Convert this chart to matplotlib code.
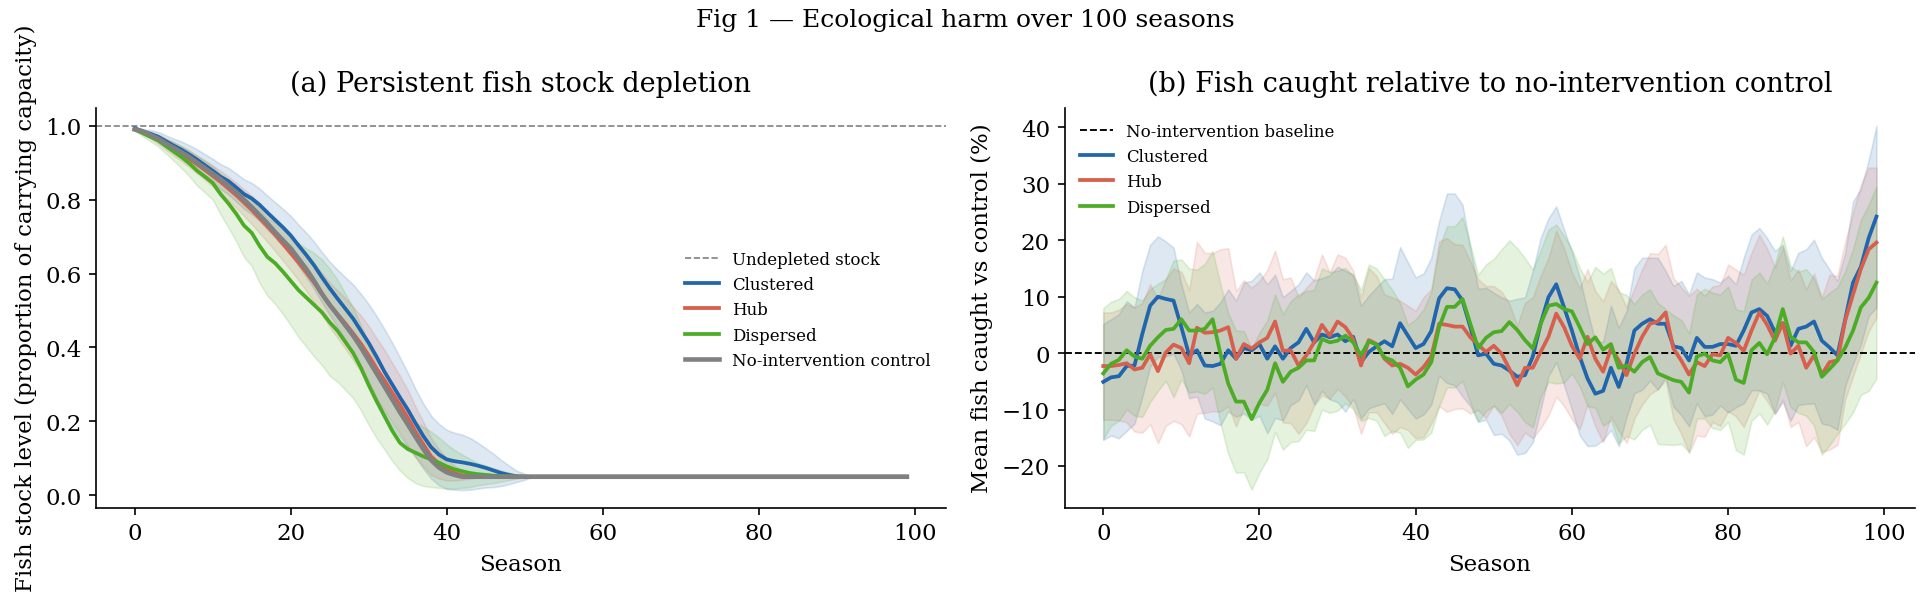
import numpy as np
import matplotlib
matplotlib.use("Agg")
import matplotlib.pyplot as plt

plt.rcParams['font.family'] = ['DejaVu Serif']

# ---- panel (a): fish stock level, seasons 0..50 then flat floor ----
FLOOR = 0.05
stock_clustered = [0.993, 0.985, 0.978, 0.970, 0.958, 0.946, 0.935, 0.922, 0.908, 0.893,
                   0.878, 0.862, 0.850, 0.833, 0.815, 0.803, 0.786, 0.765, 0.745, 0.725,
                   0.703, 0.676, 0.650, 0.622, 0.590, 0.560, 0.532, 0.505, 0.478, 0.445,
                   0.412, 0.375, 0.335, 0.300, 0.265, 0.232, 0.195, 0.160, 0.130, 0.110,
                   0.097, 0.092, 0.089, 0.085, 0.080, 0.074, 0.067, 0.060, 0.055, 0.051, 0.050]
stock_hub = [0.990, 0.983, 0.975, 0.963, 0.950, 0.937, 0.924, 0.910, 0.895, 0.880,
             0.864, 0.848, 0.830, 0.812, 0.792, 0.772, 0.750, 0.728, 0.705, 0.680,
             0.655, 0.630, 0.603, 0.575, 0.545, 0.515, 0.490, 0.465, 0.438, 0.410,
             0.378, 0.343, 0.312, 0.278, 0.245, 0.210, 0.172, 0.138, 0.105, 0.085,
             0.070, 0.060, 0.054, 0.051, 0.050, 0.050, 0.050, 0.050, 0.050, 0.050, 0.050]
stock_dispersed = [0.990, 0.980, 0.970, 0.960, 0.945, 0.930, 0.915, 0.898, 0.878, 0.862,
                   0.845, 0.815, 0.790, 0.762, 0.730, 0.710, 0.675, 0.645, 0.628, 0.605,
                   0.580, 0.555, 0.535, 0.515, 0.495, 0.468, 0.445, 0.415, 0.385, 0.345,
                   0.298, 0.255, 0.215, 0.175, 0.142, 0.125, 0.115, 0.105, 0.097, 0.088,
                   0.078, 0.070, 0.065, 0.060, 0.057, 0.055, 0.053, 0.052, 0.051, 0.050, 0.050]
stock_control = [0.990, 0.985, 0.975, 0.965, 0.952, 0.940, 0.928, 0.915, 0.900, 0.885,
                 0.870, 0.855, 0.838, 0.820, 0.800, 0.780, 0.758, 0.736, 0.712, 0.690,
                 0.668, 0.640, 0.612, 0.580, 0.545, 0.515, 0.488, 0.460, 0.432, 0.400,
                 0.365, 0.330, 0.295, 0.260, 0.225, 0.192, 0.158, 0.125, 0.095, 0.075,
                 0.062, 0.055, 0.050, 0.050, 0.050, 0.050, 0.050, 0.050, 0.050, 0.050, 0.050]
# band half-widths (seasons 0..50)
stock_sd_clustered = [0.003, 0.006, 0.010, 0.013, 0.016, 0.019, 0.022, 0.025, 0.028, 0.030,
                      0.032, 0.034, 0.036, 0.038, 0.040, 0.042, 0.044, 0.046, 0.048, 0.050,
                      0.053, 0.056, 0.060, 0.064, 0.068, 0.072, 0.078, 0.085, 0.092, 0.100,
                      0.105, 0.110, 0.115, 0.113, 0.108, 0.100, 0.092, 0.088, 0.085, 0.083,
                      0.080, 0.077, 0.075, 0.070, 0.062, 0.053, 0.045, 0.035, 0.025, 0.015, 0.008]
stock_sd_hub = [0.003, 0.006, 0.009, 0.012, 0.015, 0.018, 0.020, 0.022, 0.024, 0.026,
                0.028, 0.030, 0.032, 0.034, 0.036, 0.038, 0.040, 0.042, 0.044, 0.045,
                0.046, 0.048, 0.050, 0.053, 0.056, 0.060, 0.064, 0.068, 0.072, 0.076,
                0.080, 0.082, 0.082, 0.080, 0.078, 0.075, 0.068, 0.060, 0.050, 0.040,
                0.030, 0.020, 0.012, 0.006, 0.002, 0.0, 0.0, 0.0, 0.0, 0.0, 0.0]
stock_sd_dispersed = [0.004, 0.008, 0.012, 0.016, 0.020, 0.025, 0.030, 0.035, 0.040, 0.043,
                      0.045, 0.055, 0.065, 0.075, 0.085, 0.090, 0.100, 0.105, 0.110, 0.115,
                      0.120, 0.127, 0.133, 0.140, 0.143, 0.145, 0.138, 0.130, 0.122, 0.115,
                      0.108, 0.100, 0.090, 0.082, 0.075, 0.078, 0.082, 0.080, 0.075, 0.068,
                      0.060, 0.052, 0.045, 0.038, 0.030, 0.025, 0.020, 0.015, 0.010, 0.005, 0.0]

# ---- panel (b): % fish caught vs control, seasons 0..99 ----
catch_clustered = [-5.1, -4.3, -4.1, -2.3, -2.2, 3.4, 8.4, 10.0, 9.6, 9.3,
                   4.6, -0.4, 0.5, -2.2, -2.3, -1.9, 0.5, -1.0, 0.9, 0.5,
                   1.6, -1.0, 1.2, -1.0, 0.9, 1.9, 4.3, 1.9, 3.3, 2.8,
                   3.3, 2.1, 2.9, -1.6, 0.2, 1.2, 2.1, 1.2, 5.3, 3.1,
                   0.9, 1.6, 3.9, 9.7, 11.5, 11.3, 9.3, 4.6, -0.4, -0.1,
                   -1.9, -2.2, -3.1, -4.2, -3.9, -0.6, 5.2, 9.9, 12.2, 8.1,
                   4.0, -0.6, -4.5, -7.2, -6.7, -2.6, -6.0, -1.9, 4.0, 5.2,
                   6.0, 5.2, 5.2, 1.2, 0.9, -1.3, 2.7, 1.1, 1.1, 1.6,
                   1.6, 1.3, 4.0, 7.2, 7.8, 6.6, 3.7, 5.3, 1.3, 4.3,
                   4.7, 5.6, 2.2, 1.0, -0.4, 6.0, 12.5, 15.3, 20.4, 24.2]
catch_hub = [-2.3, -2.3, -2.1, -1.8, -2.9, -2.6, -0.2, -3.2, 0.1, 1.5,
             0.9, -1.8, 4.5, 3.6, 3.7, 4.0, 4.6, -1.0, 1.6, 0.8,
             1.9, 2.7, 5.6, 0.4, 0.5, -2.2, -0.4, 1.9, 5.0, 3.1,
             5.6, 4.6, 2.5, -2.2, 2.3, 1.6, -1.0, -2.2, -1.9, -2.6,
             -3.8, -2.5, -0.6, 5.2, 5.0, 4.7, 4.7, 2.8, 1.5, 0.2,
             1.3, -0.1, -2.8, -5.7, -2.6, -2.6, 0.2, 2.9, 7.0, 4.6,
             1.3, -1.0, 2.9, -1.0, -3.3, 0.8, -1.3, -3.9, -0.1, 2.9,
             5.2, 5.6, 7.2, 0.8, -1.3, -3.8, -1.6, -2.3, -0.2, -0.4,
             2.7, 1.8, 0.4, 4.0, 7.2, 5.0, 2.2, 5.3, -0.1, 1.3,
             -2.6, -0.4, -3.8, -1.6, -1.3, 5.8, 10.4, 14.9, 18.4, 19.6]
catch_dispersed = [-3.6, -1.9, -1.2, 0.5, -0.6, -1.0, 1.3, 2.8, 4.1, 4.3,
                   6.0, 4.0, 4.0, 4.3, 6.0, -0.1, -5.4, -8.6, -8.6, -11.7,
                   -8.8, -6.5, -1.8, -5.1, -3.3, -2.6, -1.3, -1.3, 2.5, 1.9,
                   2.2, 3.1, 1.9, -0.4, 2.1, 1.5, -0.8, -1.3, -2.6, -5.9,
                   -4.7, -3.8, -1.6, 4.6, 8.2, 8.2, 9.6, 5.2, 0.9, 2.7,
                   3.7, 3.9, 5.5, 4.1, 2.3, 0.8, 5.2, 8.4, 8.7, 7.8,
                   7.4, 4.6, 1.6, 2.8, 0.6, 1.6, -2.6, -2.2, -3.3, -1.6,
                   -0.7, -3.6, -4.2, -4.8, -5.1, -7.0, -0.6, -0.1, -1.3, -1.6,
                   -0.2, -4.7, -5.3, 0.5, 1.8, -0.2, 2.8, 7.8, 2.9, 1.9,
                   1.9, 0.2, -4.2, -2.8, -1.3, 1.0, 4.0, 8.1, 9.8, 12.5]
catch_sd_clustered = [10.3, 10.3, 11.0, 11.5, 10.3, 11.2, 10.8, 10.7, 10.2, 9.4,
                      7.6, 7.6, 8.2, 9.4, 9.8, 10.9, 10.8, 10.3, 11.6, 12.3,
                      12.7, 13.2, 12.7, 10.9, 10.1, 10.3, 10.0, 11.0, 10.0, 11.0,
                      12.0, 12.5, 11.0, 10.0, 10.0, 10.5, 11.0, 12.0, 13.5, 13.0,
                      12.5, 12.5, 13.0, 13.7, 16.8, 17.0, 17.0, 14.0, 11.8, 11.7,
                      12.6, 12.1, 12.4, 13.8, 13.8, 15.2, 15.2, 14.0, 13.8, 13.8,
                      14.0, 14.0, 12.0, 9.2, 8.7, 11.0, 10.5, 9.4, 11.1, 11.7,
                      10.9, 11.7, 9.4, 10.7, 11.9, 11.7, 11.6, 12.3, 12.0, 10.9,
                      12.1, 10.9, 12.9, 13.8, 14.4, 13.8, 14.4, 13.9, 13.3, 13.5,
                      13.7, 14.5, 14.7, 13.8, 13.2, 11.8, 14.4, 13.8, 13.8, 16.1]
catch_sd_hub = [9.5, 9.5, 9.8, 10.5, 11.0, 11.5, 12.4, 12.8, 13.0, 13.5,
                13.5, 13.0, 15.2, 14.2, 14.0, 14.4, 14.0, 12.0, 11.3, 10.8,
                10.9, 12.0, 12.6, 12.7, 12.9, 12.1, 12.0, 11.2, 12.5, 11.2,
                11.9, 12.3, 12.1, 12.1, 12.8, 12.1, 11.4, 12.1, 11.2, 11.0,
                11.3, 12.4, 11.9, 14.6, 15.4, 14.6, 14.5, 13.5, 11.6, 11.7,
                10.6, 11.0, 11.5, 10.6, 11.5, 12.5, 13.5, 14.0, 14.7, 14.0,
                13.0, 12.5, 12.0, 12.0, 12.5, 12.0, 12.5, 12.0, 11.5, 12.0,
                12.5, 12.0, 12.0, 12.5, 13.0, 13.9, 13.0, 12.5, 12.0, 12.5,
                13.0, 13.0, 13.5, 13.8, 13.8, 13.5, 13.0, 13.5, 13.0, 13.5,
                13.9, 14.5, 13.7, 15.5, 15.0, 14.0, 14.5, 15.0, 14.5, 13.3]
catch_sd_dispersed = [11.6, 11.0, 10.8, 10.5, 10.5, 10.3, 10.0, 9.5, 9.0, 12.1,
                      10.6, 11.0, 10.8, 11.5, 12.1, 12.3, 12.5, 12.6, 12.5, 12.5,
                      12.4, 12.3, 12.2, 12.0, 12.5, 13.0, 12.3, 12.5, 12.5, 12.5,
                      12.4, 12.0, 11.8, 11.6, 13.6, 13.5, 13.9, 12.5, 11.5, 10.9,
                      10.7, 11.5, 12.5, 14.0, 14.3, 14.3, 14.5, 14.0, 13.0, 13.0,
                      13.0, 14.5, 14.5, 14.5, 14.5, 14.0, 13.0, 13.5, 14.1, 13.0,
                      11.0, 10.5, 11.0, 12.5, 13.5, 13.5, 13.4, 12.5, 12.0, 12.0,
                      12.0, 12.5, 12.0, 11.5, 11.0, 10.5, 11.0, 11.5, 12.0, 12.0,
                      12.0, 12.5, 12.7, 12.5, 12.5, 12.5, 13.0, 12.9, 12.5, 12.5,
                      13.0, 13.0, 13.8, 13.5, 13.0, 13.5, 14.5, 15.5, 16.5, 17.0]

labels = ["Clustered", "Hub", "Dispersed"]
colors = ["#2166ac", "#d6604d", "#4dac26"]
GRAY = "#808080"

seasons = np.arange(100)


def pad(vals, fill):
    # flat tail after the stock has collapsed
    return np.array(list(vals) + [fill] * (100 - len(vals)))


fig = plt.figure(figsize=(12.8667, 3.9533), dpi=150)
ax1 = fig.add_axes([0.0498, 0.142, 0.4401, 0.6749])
ax2 = fig.add_axes([0.5516, 0.142, 0.4407, 0.6749])

# (a)
ax1.axhline(1.0, color=GRAY, ls="--", lw=0.8, label="Undepleted stock")
for name, col, m, sd in zip(labels, colors,
                            [stock_clustered, stock_hub, stock_dispersed],
                            [stock_sd_clustered, stock_sd_hub, stock_sd_dispersed]):
    m = pad(m, FLOOR)
    sd = pad(sd, 0.0)
    ax1.fill_between(seasons, m - sd, m + sd, color=col, alpha=0.15, lw=0.8)
    ax1.plot(seasons, m, color=col, lw=1.8, label=name)
ax1.plot(seasons, pad(stock_control, FLOOR), color=GRAY, lw=2.2, label="No-intervention control")
ax1.set_ylim(-0.034, 1.049)
ax1.set_xlabel("Season", fontsize=11)
ax1.set_ylabel("Fish stock level (proportion of carrying capacity)", fontsize=11)
ax1.set_title("(a) Persistent fish stock depletion", fontsize=13, pad=8)
ax1.legend(loc="center right", bbox_to_anchor=(1.0, 0.495), frameon=False, fontsize=8)

# (b)
ax2.axhline(0, color="black", ls="--", lw=0.9, label="No-intervention baseline")
for name, col, m, sd in zip(labels, colors,
                            [catch_clustered, catch_hub, catch_dispersed],
                            [catch_sd_clustered, catch_sd_hub, catch_sd_dispersed]):
    m = np.array(m)
    sd = np.array(sd)
    ax2.fill_between(seasons, m - sd, m + sd, color=col, alpha=0.15, lw=0.8)
    ax2.plot(seasons, m, color=col, lw=1.8, label=name)
ax2.set_xlabel("Season", fontsize=11)
ax2.set_ylabel("Mean fish caught vs control (%)", fontsize=11)
ax2.set_title("(b) Fish caught relative to no-intervention control", fontsize=13, pad=8)
ax2.legend(loc="upper left", frameon=False, fontsize=8)

for ax in (ax1, ax2):
    ax.spines["top"].set_visible(False)
    ax.spines["right"].set_visible(False)
    ax.tick_params(labelsize=11)
    ax.set_xticks([0, 20, 40, 60, 80, 100])

fig.suptitle("Fig 1 \u2014 Ecological harm over 100 seasons", fontsize=12, y=0.985)
fig.savefig("out.png", dpi=150)
